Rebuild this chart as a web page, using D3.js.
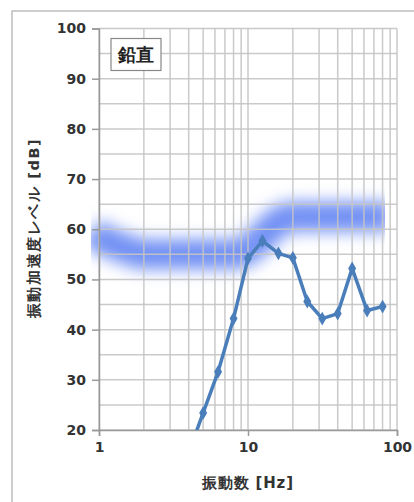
<!DOCTYPE html>
<html>
<head>
<meta charset="utf-8">
<script src="https://cdn.jsdelivr.net/npm/d3@7"></script>
<style>
  body { margin: 0; background: #fff; }
  text { font-family: "DejaVu Sans", sans-serif; }
</style>
</head>
<body>
<div id="chart"></div>
<script>
// measured 1/3-octave levels
const freqs = [4, 5, 6.3, 8, 10, 12.5, 16, 20, 25, 31.5, 40, 50, 63, 80];
const levels = [15.5, 23.4, 31.6, 42.2, 54.2, 57.7, 55.2, 54.3, 45.6, 42.2, 43.2, 52.2, 43.8, 44.6];

// blurred reference band
const bandFreqs = [0.9, 1, 1.25, 1.6, 2, 3, 5, 8, 10, 12.5, 16, 20, 30, 50, 80, 90];
const bandLevels = [59.5, 58.5, 57, 55.8, 55, 55, 55, 55, 56, 58.5, 61.5, 62.5, 62.5, 62.5, 62.5, 62.5];

const xTicks = [1, 10, 100];
const yTicks = [20, 30, 40, 50, 60, 70, 80, 90, 100];
const legendLabel = '鉛直';
const xLabel = '振動数 [Hz]';
const yLabel = '振動加速度レベル [dB]';

function draw() {
    const dims = { width: 414, height: 502, left: 99, right: 397, top: 28.5, bottom: 430 };

    const svg = d3.select('#chart')
        .append('svg')
        .attr('width', dims.width)
        .attr('height', dims.height);

    // outer frame
    svg.append('rect')
        .attr('x', 12).attr('y', 11)
        .attr('width', 420).attr('height', 520)
        .attr('fill', 'none')
        .attr('stroke', '#bdbdbd')
        .attr('stroke-width', 1.5);

    const x = d3.scaleLog().domain([1, 100]).range([dims.left, dims.right]);
    const y = d3.scaleLinear().domain([20, 100]).range([dims.bottom, dims.top]);

    const defs = svg.append('defs');
    defs.append('clipPath').attr('id', 'bandClip')
        .append('rect')
        .attr('x', dims.left - 8).attr('y', dims.top)
        .attr('width', 385 - (dims.left - 8))
        .attr('height', dims.bottom - dims.top);
    defs.append('clipPath').attr('id', 'plotTight')
        .append('rect')
        .attr('x', dims.left).attr('y', dims.top)
        .attr('width', dims.right - dims.left)
        .attr('height', dims.bottom - dims.top);
    defs.append('filter').attr('id', 'blur')
        .attr('x', '-20%').attr('y', '-100%').attr('width', '140%').attr('height', '300%')
        .append('feGaussianBlur').attr('stdDeviation', 8);

    // band, under the grid
    const bandLine = d3.line()
        .x((d, i) => x(bandFreqs[i]))
        .y(d => y(d))
        .curve(d3.curveMonotoneX);
    const band = svg.append('g').attr('clip-path', 'url(#bandClip)');
    band.append('path')
        .attr('d', bandLine(bandLevels))
        .attr('fill', 'none')
        .attr('stroke', '#5a7ef2')
        .attr('stroke-width', 30)
        .attr('stroke-opacity', 0.85)
        .attr('filter', 'url(#blur)');

    // grid
    const vLines = [];
    for (let d = 1; d < 100; d *= 10) {
        for (let k = 1; k <= 9; k++) vLines.push(d * k);
    }
    vLines.push(100);
    const hLines = d3.range(20, 100.1, 5);

    const grid = svg.append('g');
    grid.selectAll('line.v')
        .data(vLines)
        .join('line')
        .attr('class', 'v')
        .attr('x1', d => x(d)).attr('x2', d => x(d))
        .attr('y1', dims.top).attr('y2', dims.bottom)
        .attr('stroke', '#c4c4c4')
        .attr('stroke-opacity', 0.9)
        .attr('stroke-width', 1.5);
    grid.selectAll('line.h')
        .data(hLines)
        .join('line')
        .attr('class', 'h')
        .attr('x1', dims.left).attr('x2', dims.right)
        .attr('y1', d => y(d)).attr('y2', d => y(d))
        .attr('stroke', '#c4c4c4')
        .attr('stroke-opacity', 0.9)
        .attr('stroke-width', 1.5);

    // axes
    const yAxis = d3.axisLeft(y).tickValues(yTicks).tickSize(7).tickFormat(d3.format('d'));
    const xAxis = d3.axisBottom(x).tickValues(xTicks).tickSize(6).tickFormat(d3.format('d'));

    const gy = svg.append('g')
        .attr('transform', `translate(${dims.left},0)`)
        .call(yAxis);
    const gx = svg.append('g')
        .attr('transform', `translate(0,${dims.bottom})`)
        .call(xAxis);
    [gx, gy].forEach(g => {
        g.select('.domain').attr('stroke', '#999').attr('stroke-width', 1.5);
        g.selectAll('.tick line').attr('stroke', '#999').attr('stroke-width', 1.5);
        g.selectAll('.tick text')
            .attr('fill', '#333')
            .attr('font-size', 14)
            .attr('font-weight', 'bold')
            .attr('font-family', '"DejaVu Sans", sans-serif');
    });
    gy.selectAll('.tick text').attr('x', -13);
    gx.selectAll('.tick text').attr('y', 12);

    // data line
    const dataLine = d3.line()
        .x((d, i) => x(freqs[i]))
        .y(d => y(d));
    const series = svg.append('g').attr('clip-path', 'url(#plotTight)');
    series.append('path')
        .attr('d', dataLine(levels))
        .attr('fill', 'none')
        .attr('stroke', '#4a7ebb')
        .attr('stroke-width', 3.5)
        .attr('stroke-linejoin', 'round');
    const diamond = d3.symbol().type(d3.symbolDiamond).size(55);
    series.selectAll('path.pt')
        .data(levels)
        .join('path')
        .attr('class', 'pt')
        .attr('d', diamond)
        .attr('transform', (d, i) => `translate(${x(freqs[i])},${y(d)})`)
        .attr('fill', '#4a7ebb');

    // legend box
    const lg = svg.append('g');
    lg.append('rect')
        .attr('x', 111).attr('y', 38.5)
        .attr('width', 50).attr('height', 32)
        .attr('fill', '#fff')
        .attr('stroke', '#888')
        .attr('stroke-width', 1.2);
    lg.append('text')
        .attr('x', 136).attr('y', 61)
        .attr('text-anchor', 'middle')
        .attr('font-family', '"Noto Sans CJK JP", sans-serif')
        .attr('font-size', 18)
        .attr('font-weight', 'bold')
        .attr('fill', '#222')
        .text(legendLabel);

    // axis titles
    svg.append('text')
        .attr('x', 248).attr('y', 488)
        .attr('text-anchor', 'middle')
        .attr('font-family', '"Noto Sans CJK JP", sans-serif')
        .attr('font-size', 15)
        .attr('font-weight', 'bold')
        .attr('letter-spacing', 0.8)
        .attr('fill', '#333')
        .text(xLabel);
    svg.append('text')
        .attr('transform', 'translate(39,228) rotate(-90)')
        .attr('text-anchor', 'middle')
        .attr('font-family', '"Noto Sans CJK JP", sans-serif')
        .attr('font-size', 14.5)
        .attr('font-weight', 'bold')
        .attr('letter-spacing', 1.6)
        .attr('fill', '#333')
        .text(yLabel);
}

draw();
</script>
</body>
</html>
